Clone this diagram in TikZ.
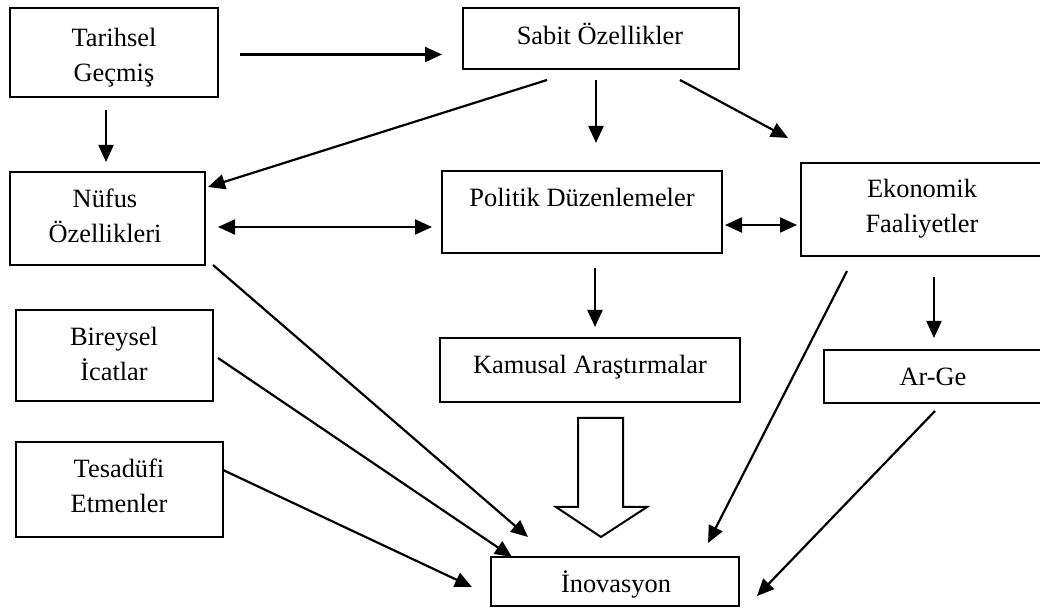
\documentclass[tikz,border=0pt]{standalone}
\usepackage{fontspec}
\setmainfont{Liberation Serif}
\usetikzlibrary{arrows.meta}
\begin{document}
\begin{tikzpicture}[x=0.5pt,y=-0.5pt,
  box/.style={draw, line width=1pt, rectangle, inner sep=0pt, outer sep=0pt},
  lbl/.style={anchor=base, align=center, inner sep=0pt,
    font=\fontsize{13.2}{17.5}\selectfont},
  arr/.style={line width=1.1pt, -{Triangle[length=8.5pt,width=7.5pt]}},
  darr/.style={line width=1.1pt, {Triangle[length=8.5pt,width=7.5pt]}-{Triangle[length=8.5pt,width=7.5pt]}},
  hollow/.style={draw, line width=1pt, fill=white, line join=miter},
]
\useasboundingbox (0,0) rectangle (1040,608);

% boxes
\node[box, minimum width=104pt, minimum height=44.5pt] (tar) at (114,52.5) {};
\node[box, minimum width=138pt, minimum height=30.5pt] (sab) at (601,38.5) {};
\node[box, minimum width=97.5pt, minimum height=46.5pt] (nuf) at (107.5,218.5) {};
\node[box, minimum width=140pt, minimum height=41pt] (pol) at (582,212) {};
\node[box, minimum width=120.5pt, minimum height=46.5pt] (eko) at (921.5,209.5) {};
\node[box, minimum width=98.5pt, minimum height=45.5pt] (bir) at (114.5,355.5) {};
\node[box, minimum width=103.5pt, minimum height=47.5pt] (tes) at (119.5,489.5) {};
\node[box, minimum width=150pt, minimum height=32pt] (kam) at (590,370) {};
\node[box, minimum width=109pt, minimum height=26.5pt] (arg) at (933,376.5) {};
\node[box, minimum width=124pt, minimum height=24.5pt] (ino) at (615,581.5) {};

% labels (base anchor sits on the last line)
\node[lbl] (tar-t) at (114,82) {Tarihsel\\Geçmiş};
\node[lbl] (sab-t) at (600,45) {Sabit Özellikler};
\node[lbl] (nuf-t) at (105,243) {Nüfus\\Özellikleri};
\node[lbl] (pol-t) at (582,207) {Politik Düzenlemeler};
\node[lbl] (eko-t) at (922,233) {Ekonomik\\Faaliyetler};
\node[lbl] (bir-t) at (114,381) {Bireysel\\İcatlar};
\node[lbl] (tes-t) at (119,513) {Tesadüfi\\Etmenler};
\node[lbl] (kam-t) at (590,374) {Kamusal Araştırmalar};
\node[lbl] (arg-t) at (933,386) {Ar-Ge};
\node[lbl] (ino-t) at (616,593) {İnovasyon};

% connector ends
\coordinate (tar-r) at (240,54.5);
\coordinate (sab-l) at (442,54.5);
\coordinate (tar-b) at (106,110);
\coordinate (nuf-tp) at (106,162);
\coordinate (sab-bl) at (547,80);
\coordinate (nuf-tr) at (208,187);
\coordinate (sab-b) at (596,80);
\coordinate (pol-tp) at (596,143);
\coordinate (sab-br) at (680,80);
\coordinate (eko-tl) at (788,138);
\coordinate (nuf-r) at (218,227);
\coordinate (pol-l) at (432,227);
\coordinate (pol-r) at (725,225);
\coordinate (eko-l) at (797,225);
\coordinate (pol-b) at (595,268);
\coordinate (kam-tp) at (595,327);
\coordinate (eko-b) at (934,277);
\coordinate (arg-tp) at (934,338);
\coordinate (nuf-br) at (213,265);
\coordinate (ino-a) at (528,537);
\coordinate (bir-r) at (218,358);
\coordinate (ino-b) at (512,557);
\coordinate (tes-r) at (223,470);
\coordinate (ino-c) at (472,587);
\coordinate (eko-bl) at (847,271);
\coordinate (ino-d) at (708,543);
\coordinate (arg-b) at (935,411);
\coordinate (ino-e) at (757,596);

% connectors
\draw[arr] (tar-r) -- (sab-l);
\draw[arr] (tar-b) -- (nuf-tp);
\draw[arr] (sab-bl) -- (nuf-tr);
\draw[arr] (sab-b) -- (pol-tp);
\draw[arr] (sab-br) -- (eko-tl);
\draw[darr] (nuf-r) -- (pol-l);
\draw[darr] (pol-r) -- (eko-l);
\draw[arr] (pol-b) -- (kam-tp);
\draw[arr] (eko-b) -- (arg-tp);
\draw[arr] (nuf-br) -- (ino-a);
\draw[arr] (bir-r) -- (ino-b);
\draw[arr] (tes-r) -- (ino-c);
\draw[arr] (eko-bl) -- (ino-d);
\draw[arr] (arg-b) -- (ino-e);

% block arrow from public research to innovation
\draw[hollow] (578,418) -- (623,418) -- (623,507) -- (647,507) -- (601,537)
  -- (556,507) -- (578,507) -- cycle;
\end{tikzpicture}
\end{document}
